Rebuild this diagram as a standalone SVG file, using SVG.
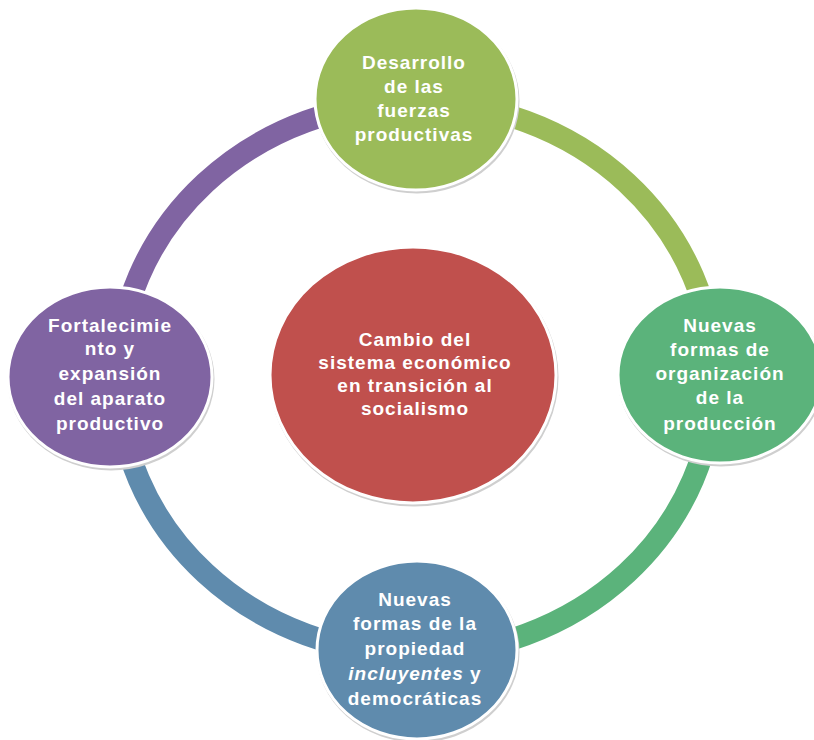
<svg xmlns="http://www.w3.org/2000/svg" width="814" height="740" viewBox="0 0 814 740">
<style>
.arc{fill:none;stroke-width:22}
.node{stroke:#ffffff;stroke-width:3}
.sh{fill:none;stroke:#cfcfcf;stroke-width:3}
.t{font-family:"Liberation Sans",Arial,sans-serif;font-weight:700;font-size:19px;letter-spacing:1px;fill:#ffffff;text-anchor:middle}
.i{font-style:italic}
</style>
<rect width="814" height="740" fill="#ffffff"/>
<g id="connectors">
<path class="arc" stroke="#9BBB59" d="M 416 102 A 298 276 0 0 1 714 378"/>
<path class="arc" stroke="#5BB37B" d="M 714 378 A 298 276 0 0 1 416 654"/>
<path class="arc" stroke="#5F8BAD" d="M 416 654 A 298 276 0 0 1 118 378"/>
<path class="arc" stroke="#8064A2" d="M 118 378 A 298 276 0 0 1 416 102"/>
</g>
<g id="center">
<ellipse class="sh" cx="414" cy="377" rx="143" ry="128"/>
<ellipse class="node" fill="#C0504D" cx="413" cy="375" rx="143" ry="128"/>
<text class="t"><tspan x="415" y="346">Cambio del</tspan><tspan x="415" y="369">sistema económico</tspan><tspan x="415" y="392">en transición al</tspan><tspan x="415" y="415">socialismo</tspan></text>
</g>
<g id="top">
<ellipse class="sh" cx="417" cy="101" rx="101" ry="91"/>
<ellipse class="node" fill="#9BBB59" cx="416" cy="99" rx="101" ry="91"/>
<text class="t"><tspan x="414" y="69">Desarrollo</tspan><tspan x="414" y="93">de las</tspan><tspan x="414" y="117">fuerzas</tspan><tspan x="414" y="141">productivas</tspan></text>
</g>
<g id="right">
<ellipse class="sh" cx="721" cy="377" rx="102" ry="88"/>
<ellipse class="node" fill="#5BB37B" cx="720" cy="375" rx="102" ry="88"/>
<text class="t"><tspan x="720" y="332">Nuevas</tspan><tspan x="720" y="356">formas de</tspan><tspan x="720" y="380">organización</tspan><tspan x="720" y="404">de la</tspan><tspan x="720" y="430">producción</tspan></text>
</g>
<g id="bottom">
<ellipse class="sh" cx="418" cy="652" rx="100" ry="89"/>
<ellipse class="node" fill="#5F8BAD" cx="417" cy="650" rx="100" ry="89"/>
<text class="t"><tspan x="415" y="606">Nuevas</tspan><tspan x="415" y="630">formas de la</tspan><tspan x="415" y="655">propiedad</tspan><tspan x="415" y="680"><tspan class="i">incluyentes</tspan> y</tspan><tspan x="415" y="705">democráticas</tspan></text>
</g>
<g id="left">
<ellipse class="sh" cx="111" cy="379" rx="102" ry="90"/>
<ellipse class="node" fill="#8064A2" cx="110" cy="377" rx="102" ry="90"/>
<text class="t"><tspan x="110" y="332">Fortalecimie</tspan><tspan x="110" y="355">nto y</tspan><tspan x="110" y="380">expansión</tspan><tspan x="110" y="405">del aparato</tspan><tspan x="110" y="430">productivo</tspan></text>
</g>
</svg>
